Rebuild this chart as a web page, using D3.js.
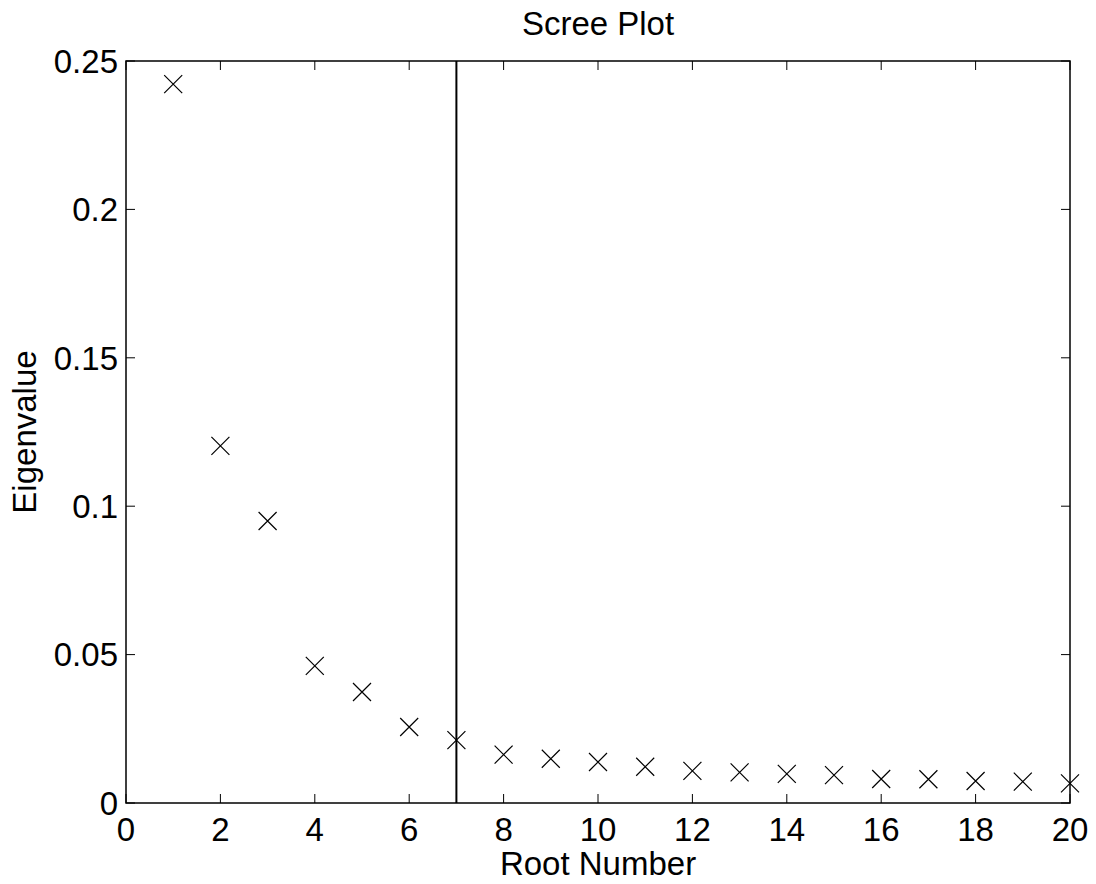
<!DOCTYPE html>
<html>
<head>
<meta charset="utf-8">
<script src="https://cdn.jsdelivr.net/npm/d3@7"></script>
<style>
  html, body { margin: 0; padding: 0; background: #fff; }
  svg { display: block; font-family: "Liberation Sans", Arial, Helvetica, sans-serif; }
</style>
</head>
<body>
<svg id="chart" width="1096" height="884"></svg>
<script>
const rootNumbers = [1,2,3,4,5,6,7,8,9,10,11,12,13,14,15,16,17,18,19,20];
const eigenvalues = [0.2422,0.1203,0.0950,0.0462,0.0374,0.0256,0.0212,0.0163,0.0149,0.0138,
                     0.0122,0.0108,0.0103,0.0098,0.0094,0.0081,0.0080,0.0074,0.0072,0.0066];
const xTicks = [0,2,4,6,8,10,12,14,16,18,20];
const yTicks = [0,0.05,0.1,0.15,0.2,0.25];
const yTickLabels = ["0","0.05","0.1","0.15","0.2","0.25"];
const cutoff = [7];
const titleText = "Scree Plot";
const xLabel = "Root Number";
const yLabel = "Eigenvalue";

const svg = d3.select("#chart");
const L = 126, R = 1070, T = 61, B = 803;
const x = d3.scaleLinear().domain([0,20]).range([L,R]);
const y = d3.scaleLinear().domain([0,0.25]).range([B,T]);
const fs = 33;
const tickLen = 9;

// ticks (inward, all four sides)
const g = svg.append("g");
xTicks.forEach(v => {
  g.append("line").attr("x1", x(v)).attr("x2", x(v)).attr("y1", B).attr("y2", B - tickLen)
    .attr("stroke", "#000").attr("stroke-width", 1);
  g.append("line").attr("x1", x(v)).attr("x2", x(v)).attr("y1", T).attr("y2", T + tickLen)
    .attr("stroke", "#000").attr("stroke-width", 1);
  g.append("text").attr("x", x(v)).attr("y", B + 38).attr("text-anchor", "middle")
    .attr("font-size", fs).text(v);
});
yTicks.forEach((v, i) => {
  g.append("line").attr("x1", L).attr("x2", L + tickLen).attr("y1", y(v)).attr("y2", y(v))
    .attr("stroke", "#000").attr("stroke-width", 1);
  g.append("line").attr("x1", R).attr("x2", R - tickLen).attr("y1", y(v)).attr("y2", y(v))
    .attr("stroke", "#000").attr("stroke-width", 1);
  g.append("text").attr("x", L - 8).attr("y", y(v)).attr("dy", "0.36em").attr("text-anchor", "end")
    .attr("font-size", fs).text(yTickLabels[i]);
});

// frame
svg.append("rect").attr("x", L).attr("y", T).attr("width", R - L).attr("height", B - T)
  .attr("fill", "none").attr("stroke", "#000").attr("stroke-width", 1.5);

// cutoff line
svg.selectAll("line.cut").data(cutoff).enter().append("line").attr("class", "cut")
  .attr("x1", d => x(d)).attr("x2", d => x(d)).attr("y1", y(0)).attr("y2", y(0.25))
  .attr("stroke", "#000").attr("stroke-width", 2);

// markers (x shape)
const h = 9;
svg.selectAll("path.pt").data(rootNumbers).enter().append("path").attr("class", "pt")
  .attr("d", (d, i) => {
    const cx = x(d), cy = y(eigenvalues[i]);
    return `M${cx-h},${cy-h}L${cx+h},${cy+h}M${cx-h},${cy+h}L${cx+h},${cy-h}`;
  })
  .attr("stroke", "#000").attr("stroke-width", 1.2).attr("fill", "none");

// labels
svg.append("text").attr("x", (L + R) / 2).attr("y", 35).attr("text-anchor", "middle")
  .attr("font-size", fs).text(titleText);
svg.append("text").attr("x", (L + R) / 2).attr("y", 875).attr("text-anchor", "middle")
  .attr("font-size", fs).text(xLabel);
svg.append("text").attr("transform", `translate(36,${(T + B) / 2}) rotate(-90)`)
  .attr("text-anchor", "middle").attr("font-size", fs).text(yLabel);
</script>
</body>
</html>
